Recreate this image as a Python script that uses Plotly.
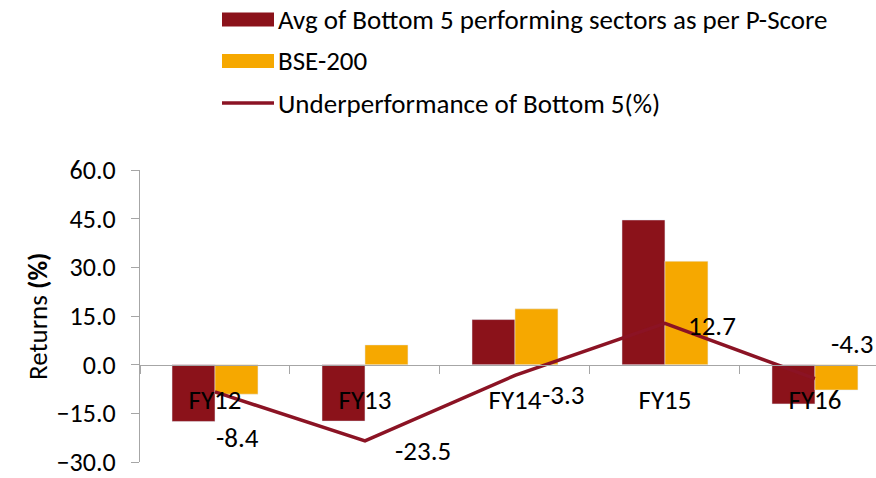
import plotly.graph_objects as go

categories = ["FY12", "FY13", "FY14", "FY15", "FY16"]
bottom5 = [-17.5, -17.4, 13.9, 44.6, -12.1]
bse200 = [-9.1, 6.1, 17.2, 31.9, -7.8]
underperf = [-8.4, -23.5, -3.3, 12.7, -4.3]
series_names = ["Avg of Bottom 5 performing sectors as per P-Score", "BSE-200",
                "Underperformance of Bottom 5(%)"]
y_ticks = [-30, -15, 0, 15, 30, 45, 60]
y_title = "Returns <b>(%)</b>"

C_DARK = "#8B121A"
C_ORANGE = "#F6A800"
C_LINE = "#8B1324"
AX = "#A6A6A6"
FONT = "Carlito, Calibri, Lato, sans-serif"
FS = 27

W, H = 876, 478
ML, MR, MT, MB = 140, 0, 170, 16
PW, PH = W - ML - MR, H - MT - MB


def px(x):
    return (x - ML) / PW


def py(y):
    return (H - MB - y) / PH


fig = go.Figure()
fig.add_trace(go.Bar(x=categories, y=bottom5, name=series_names[0],
                     marker_color=C_DARK, showlegend=False))
fig.add_trace(go.Bar(x=categories, y=bse200, name=series_names[1],
                     marker_color=C_ORANGE, showlegend=False))
fig.add_trace(go.Scatter(x=categories, y=underperf, name=series_names[2], mode="lines",
                         line=dict(color=C_LINE, width=3.5), showlegend=False))

# data labels for the line
label_offsets = [(23, -46), (58, -10), (48, -19), (47, -2), (37, 35)]
for c, v, (dx, dy) in zip(categories, underperf, label_offsets):
    fig.add_annotation(x=c, y=v, text=f"{v:.1f}", showarrow=False,
                       xshift=dx, yshift=dy, font=dict(family=FONT, size=FS, color="black"))

# manual legend
rows = [19.5, 61, 103]
for i, (name, yc) in enumerate(zip(series_names, rows)):
    if i < 2:
        fig.add_shape(type="rect", xref="paper", yref="paper",
                      x0=px(222), x1=px(274), y0=py(yc + 7), y1=py(yc - 7),
                      fillcolor=[C_DARK, C_ORANGE][i], line=dict(width=0))
    else:
        fig.add_shape(type="line", xref="paper", yref="paper",
                      x0=px(222), x1=px(274), y0=py(yc), y1=py(yc),
                      line=dict(color=C_LINE, width=3.5))
    fig.add_annotation(xref="paper", yref="paper", x=px(276), y=py(yc), text=name,
                       showarrow=False, xanchor="left", yanchor="middle",
                       font=dict(family=FONT, size=FS, color="black"))

# y-axis title
fig.add_annotation(xref="paper", yref="paper", x=px(37), y=0.5, text=y_title,
                   textangle=-90, showarrow=False, xanchor="center", yanchor="middle",
                   font=dict(family=FONT, size=FS, color="black"))

fig.update_layout(
    width=W, height=H,
    margin=dict(l=ML, r=MR, t=MT, b=MB, autoexpand=False),
    paper_bgcolor="white", plot_bgcolor="white",
    barmode="group", bargap=0.427, bargroupgap=0,
    font=dict(family=FONT, size=FS, color="black"),
    showlegend=False,
)
fig.update_xaxes(
    type="category", range=[-0.5, 4.407],
    anchor="free", position=30 / 90, automargin=False,
    showline=True, linecolor=AX, linewidth=1.2,
    ticks="outside", tickson="boundaries", ticklen=8, tickcolor=AX,
    ticklabelstandoff=11, showgrid=False, zeroline=False,
    tickfont=dict(family=FONT, size=FS, color="black"),
)
fig.update_yaxes(
    range=[-30, 60], tickvals=y_ticks, tickformat=".1f", automargin=False,
    showline=True, linecolor=AX, linewidth=1.2,
    ticks="outside", ticklen=8, tickcolor=AX,
    ticklabelstandoff=10, ticklabeloverflow="allow",
    showgrid=False, zeroline=False,
    tickfont=dict(family=FONT, size=26, color="black"),
)

fig.write_html("out.html", config={"displayModeBar": False},
               post_script="document.body.style.margin='0';")
